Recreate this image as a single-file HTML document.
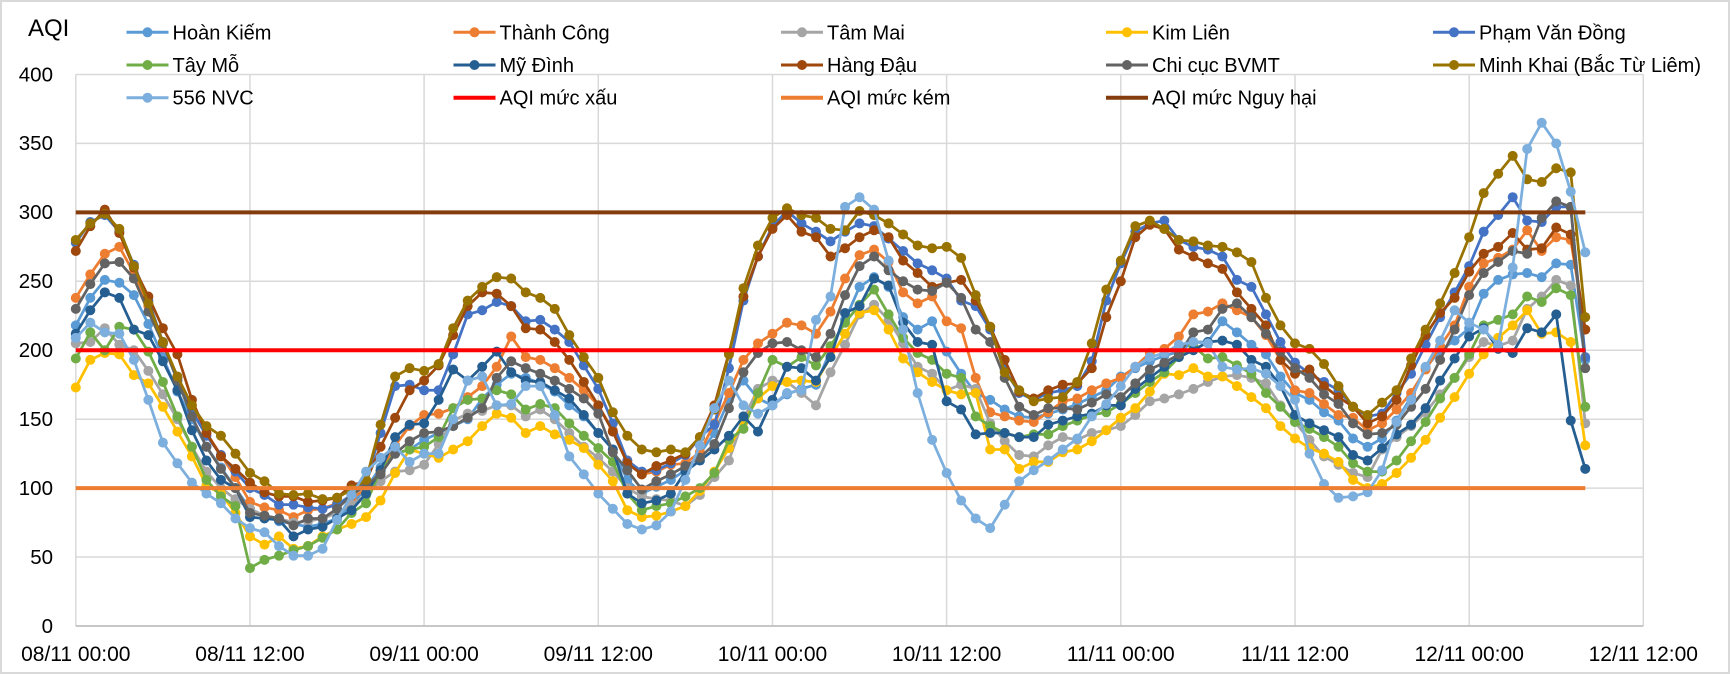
<!DOCTYPE html>
<html><head><meta charset="utf-8">
<style>
html,body{margin:0;padding:0;background:#fff;}
svg{display:block;font-family:"Liberation Sans",Arial,sans-serif;}
</style></head><body>
<svg id="c" width="1730" height="674" viewBox="0 0 1730 674" xmlns="http://www.w3.org/2000/svg">
<rect x="0" y="0" width="1730" height="674" fill="#fff"/>
<rect x="1" y="1" width="1728" height="672" fill="none" stroke="#D9D9D9" stroke-width="2"/>
<g stroke="#D9D9D9" stroke-width="1.5">
<line x1="75.8" y1="557.06" x2="1643.3" y2="557.06"/>
<line x1="75.8" y1="488.1" x2="1643.3" y2="488.1"/>
<line x1="75.8" y1="419.2" x2="1643.3" y2="419.2"/>
<line x1="75.8" y1="350.25" x2="1643.3" y2="350.25"/>
<line x1="75.8" y1="281.3" x2="1643.3" y2="281.3"/>
<line x1="75.8" y1="212.4" x2="1643.3" y2="212.4"/>
<line x1="75.8" y1="143.4" x2="1643.3" y2="143.4"/>
<line x1="75.8" y1="74.5" x2="1643.3" y2="74.5"/>
<line x1="75.8" y1="74.5" x2="75.8" y2="626"/>
<line x1="249.97" y1="74.5" x2="249.97" y2="626"/>
<line x1="424.1" y1="74.5" x2="424.1" y2="626"/>
<line x1="598.3" y1="74.5" x2="598.3" y2="626"/>
<line x1="772.5" y1="74.5" x2="772.5" y2="626"/>
<line x1="946.6" y1="74.5" x2="946.6" y2="626"/>
<line x1="1120.8" y1="74.5" x2="1120.8" y2="626"/>
<line x1="1295" y1="74.5" x2="1295" y2="626"/>
<line x1="1469.2" y1="74.5" x2="1469.2" y2="626"/>
<line x1="1643.3" y1="74.5" x2="1643.3" y2="626"/>
</g>
<line x1="75.8" y1="626" x2="1643.3" y2="626" stroke="#BFBFBF" stroke-width="1.8"/>
<g id="data"></g>
<g stroke-width="4">
<line x1="75.8" y1="350.25" x2="1585.3" y2="350.25" stroke="#FF0000"/>
<line x1="75.8" y1="488.1" x2="1585.3" y2="488.1" stroke="#ED7D31"/>
<line x1="75.8" y1="212.4" x2="1585.3" y2="212.4" stroke="#843C0C"/>
</g>
<g font-size="20.5" fill="#000" text-anchor="end">
<text x="53" y="633">0</text>
<text x="53" y="564">50</text>
<text x="53" y="495">100</text>
<text x="53" y="426">150</text>
<text x="53" y="357">200</text>
<text x="53" y="288">250</text>
<text x="53" y="219">300</text>
<text x="53" y="150">350</text>
<text x="53" y="81.5">400</text>
</g>
<g font-size="21" fill="#000" text-anchor="middle">
<text x="75.8" y="661">08/11 00:00</text>
<text x="249.97" y="661">08/11 12:00</text>
<text x="424.1" y="661">09/11 00:00</text>
<text x="598.3" y="661">09/11 12:00</text>
<text x="772.5" y="661">10/11 00:00</text>
<text x="946.6" y="661">10/11 12:00</text>
<text x="1120.8" y="661">11/11 00:00</text>
<text x="1295" y="661">11/11 12:00</text>
<text x="1469.2" y="661">12/11 00:00</text>
<text x="1643.3" y="661">12/11 12:00</text>
</g>
<text x="28" y="36" font-size="24" fill="#000">AQI</text>
<g font-size="20" fill="#000">
<line x1="126.5" y1="32.3" x2="168.5" y2="32.3" stroke="#5B9BD5" stroke-width="3"/><circle cx="147.5" cy="32.3" r="5" fill="#5B9BD5"/><text x="172.5" y="39.3">Hoàn Kiếm</text>
<line x1="453.5" y1="32.3" x2="495.5" y2="32.3" stroke="#ED7D31" stroke-width="3"/><circle cx="474.5" cy="32.3" r="5" fill="#ED7D31"/><text x="499.5" y="39.3">Thành Công</text>
<line x1="781" y1="32.3" x2="823" y2="32.3" stroke="#A5A5A5" stroke-width="3"/><circle cx="802" cy="32.3" r="5" fill="#A5A5A5"/><text x="827" y="39.3">Tâm Mai</text>
<line x1="1106" y1="32.3" x2="1148" y2="32.3" stroke="#FFC000" stroke-width="3"/><circle cx="1127" cy="32.3" r="5" fill="#FFC000"/><text x="1152" y="39.3">Kim Liên</text>
<line x1="1433" y1="32.3" x2="1475" y2="32.3" stroke="#4472C4" stroke-width="3"/><circle cx="1454" cy="32.3" r="5" fill="#4472C4"/><text x="1479" y="39.3">Phạm Văn Đồng</text>

<line x1="126.5" y1="65" x2="168.5" y2="65" stroke="#70AD47" stroke-width="3"/><circle cx="147.5" cy="65" r="5" fill="#70AD47"/><text x="172.5" y="72">Tây Mỗ</text>
<line x1="453.5" y1="65" x2="495.5" y2="65" stroke="#255E91" stroke-width="3"/><circle cx="474.5" cy="65" r="5" fill="#255E91"/><text x="499.5" y="72">Mỹ Đình</text>
<line x1="781" y1="65" x2="823" y2="65" stroke="#9E480E" stroke-width="3"/><circle cx="802" cy="65" r="5" fill="#9E480E"/><text x="827" y="72">Hàng Đậu</text>
<line x1="1106" y1="65" x2="1148" y2="65" stroke="#636363" stroke-width="3"/><circle cx="1127" cy="65" r="5" fill="#636363"/><text x="1152" y="72">Chi cục BVMT</text>
<line x1="1433" y1="65" x2="1475" y2="65" stroke="#997300" stroke-width="3"/><circle cx="1454" cy="65" r="5" fill="#997300"/><text x="1479" y="72">Minh Khai (Bắc Từ Liêm)</text>

<line x1="126.5" y1="97.7" x2="168.5" y2="97.7" stroke="#7CAFDD" stroke-width="3"/><circle cx="147.5" cy="97.7" r="5" fill="#7CAFDD"/><text x="172.5" y="104.7">556 NVC</text>
<line x1="453.5" y1="97.7" x2="495.5" y2="97.7" stroke="#FF0000" stroke-width="4"/><text x="499.5" y="104.7">AQI mức xấu</text>
<line x1="781" y1="97.7" x2="823" y2="97.7" stroke="#ED7D31" stroke-width="4"/><text x="827" y="104.7">AQI mức kém</text>
<line x1="1106" y1="97.7" x2="1148" y2="97.7" stroke="#843C0C" stroke-width="4"/><text x="1152" y="104.7">AQI mức Nguy hại</text>
</g>
</svg>
<script>
(function(){
var HK=[218,238,251,249,240,219,195,170,150,130,115,100,85,80,76,74,72,74,78,88,100,115,125,128,135,140,145,150,165,175,183,180,176,170,160,152,140,128,106,96,101,106,113,125,140,164,178,165,160,168,172,175,200,222,246,253,246,224,215,221,199,183,169,164,157,152,151,154,157,161,166,171,181,187,192,196,199,206,206,221,213,204,197,181,169,164,155,149,136,130,136,149,166,187,200,207,216,241,251,255,256,253,263,262,193];
var TC=[238,255,270,275,256,232,205,180,160,140,124,108,90,86,84,79,84,85,89,93,99,112,131,145,153,154,158,166,174,188,210,195,193,187,180,171,160,142,120,110,112,117,118,126,147,169,193,205,212,220,218,212,228,252,269,273,264,242,234,239,221,216,180,155,152,149,148,155,163,165,171,176,180,188,198,201,210,226,228,234,229,224,211,193,171,169,161,153,151,142,147,157,169,186,203,218,246,263,267,273,287,272,282,280,215];
var TMA=[205,206,216,204,200,185,168,150,130,112,100,92,85,80,78,75,76,78,82,88,95,105,112,113,117,132,149,154,156,160,160,152,157,150,140,130,122,112,100,94,92,91,87,95,108,120,150,172,178,177,169,160,184,204,226,233,222,205,188,183,171,175,172,147,134,124,123,131,137,135,140,142,145,153,163,165,168,172,177,181,182,180,176,160,148,135,123,117,111,108,128,137,145,155,168,180,195,206,203,207,230,239,251,247,147];
var KL=[173,193,198,197,182,176,159,141,123,102,96,82,65,59,65,56,58,65,70,74,79,91,111,128,125,122,128,134,145,154,151,140,145,139,135,129,117,105,84,79,80,83,87,98,112,129,148,165,174,177,178,177,195,212,227,229,215,194,184,177,171,168,169,128,128,114,119,119,126,128,134,142,151,158,170,183,182,187,181,181,174,166,158,145,136,129,125,119,106,100,103,111,122,135,151,166,183,197,209,218,229,212,213,206,131];
var PVD=[278,293,298,286,262,236,206,180,156,138,124,112,100,95,88,88,86,85,88,95,105,140,174,175,171,171,197,226,229,235,232,221,222,215,206,189,172,147,120,112,113,118,124,137,146,187,236,268,290,301,292,286,279,286,292,290,281,272,263,258,252,236,232,215,186,169,164,169,171,174,192,236,263,286,292,294,280,275,273,268,251,246,226,206,191,183,177,171,159,152,154,169,183,204,224,242,261,286,298,311,294,293,304,304,195];
var TM=[194,213,200,217,215,199,177,152,130,106,94,87,42,48,51,55,58,64,70,82,89,113,125,128,130,137,158,164,165,171,168,157,161,158,147,138,129,119,96,84,87,89,94,100,111,135,143,169,193,188,195,189,203,220,233,244,226,209,198,193,183,180,152,145,140,137,139,139,145,149,153,155,161,169,177,184,195,203,194,195,189,183,169,159,148,143,137,130,118,112,112,120,134,148,165,180,197,218,222,226,239,235,245,240,159];
var MD=[212,229,242,238,215,211,192,171,142,120,106,100,79,78,77,65,70,72,78,84,96,113,137,146,147,164,186,178,188,199,184,178,177,171,165,153,140,128,96,89,91,96,112,120,128,138,152,141,164,188,187,178,195,227,232,252,247,220,206,204,163,157,139,140,140,137,137,146,149,152,154,160,160,172,180,188,195,200,206,207,204,193,188,174,153,147,142,137,124,120,129,139,146,158,178,194,210,216,201,198,216,213,226,149,114];
var HD=[272,290,302,285,260,239,216,197,164,140,123,114,104,97,94,94,90,91,93,102,105,130,151,171,178,189,211,232,242,241,232,216,215,206,193,177,160,141,118,110,116,120,125,137,160,198,239,268,288,298,286,282,268,274,282,287,282,265,256,246,249,251,236,217,193,170,165,171,175,176,187,224,250,282,291,288,273,268,263,259,242,230,218,193,183,186,174,166,159,147,152,164,189,211,227,238,257,270,275,285,273,274,289,284,215];
var CC=[230,248,263,264,252,228,205,178,152,130,114,100,82,80,78,73,78,78,85,95,102,110,125,134,140,141,145,151,158,180,192,187,183,178,172,165,154,126,113,99,105,110,116,122,132,158,184,198,205,206,200,195,212,240,261,268,258,250,244,243,249,238,215,206,180,159,153,158,158,157,162,168,166,176,186,191,197,213,215,230,234,224,212,199,187,180,168,161,147,139,140,146,159,172,193,215,240,256,264,272,270,296,308,304,187];
var MK=[280,292,299,288,261,234,206,181,160,145,138,125,111,105,96,95,96,92,93,99,106,146,181,187,185,190,216,236,246,253,252,242,238,230,211,195,180,155,138,128,126,128,126,137,157,197,245,276,296,303,298,296,288,287,301,298,292,284,276,274,275,267,240,217,184,171,163,165,166,177,205,244,265,290,294,288,280,279,276,275,271,264,238,218,205,201,190,174,159,153,162,171,194,215,234,256,282,314,328,341,324,322,332,329,224];
var NVC=[209,220,213,212,193,164,133,118,104,96,89,78,71,68,58,51,51,56,77,95,112,122,130,119,125,125,150,178,181,160,161,174,174,153,123,110,96,85,74,70,73,83,106,131,158,178,160,154,160,169,171,222,239,304,311,302,265,215,169,135,111,91,78,71,88,105,113,120,128,136,152,161,174,188,195,198,204,206,205,188,186,187,183,174,164,125,103,93,94,97,113,148,164,188,207,229,220,215,204,260,346,365,350,315,271];
var S=[["#5B9BD5",HK],["#ED7D31",TC],["#A5A5A5",TMA],["#FFC000",KL],["#4472C4",PVD],["#70AD47",TM],["#255E91",MD],["#9E480E",HD],["#636363",CC],["#997300",MK],["#7CAFDD",NVC]];
var NS="http://www.w3.org/2000/svg";
var g=document.getElementById("data");
function X(h){return 75.8+h*14.514;}
function Y(v){return 626-v*1.37875;}
S.forEach(function(s){
  var col=s[0],d=s[1];
  var pts=[];
  for(var i=0;i<d.length;i++){pts.push(X(i).toFixed(2)+","+Y(d[i]).toFixed(2));}
  var pl=document.createElementNS(NS,"polyline");
  pl.setAttribute("points",pts.join(" "));
  pl.setAttribute("fill","none");
  pl.setAttribute("stroke",col);
  pl.setAttribute("stroke-width","2.75");
  pl.setAttribute("stroke-linejoin","round");
  g.appendChild(pl);
  for(var j=0;j<d.length;j++){
    var c=document.createElementNS(NS,"circle");
    c.setAttribute("cx",X(j).toFixed(2));
    c.setAttribute("cy",Y(d[j]).toFixed(2));
    c.setAttribute("r","5");
    c.setAttribute("fill",col);
    g.appendChild(c);
  }
});
})();
</script>
</body></html>
